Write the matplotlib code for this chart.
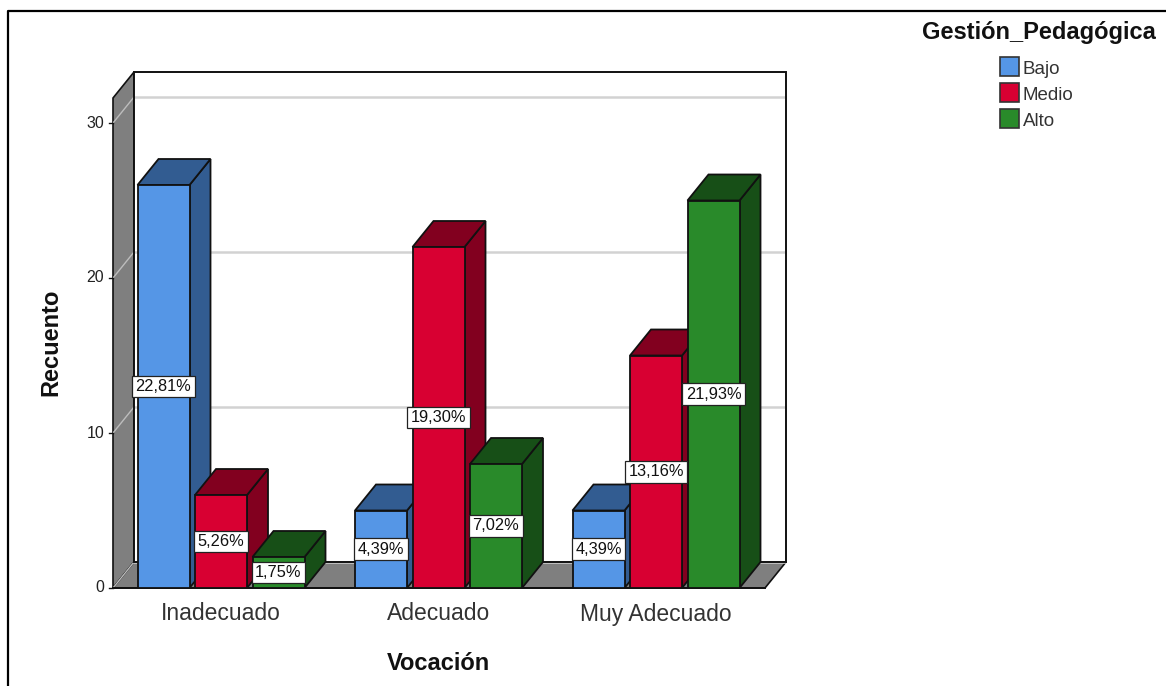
import matplotlib
matplotlib.use('Agg')
import matplotlib.pyplot as plt
from matplotlib.patches import Polygon, Rectangle

plt.rcParams['font.family'] = ['Liberation Sans', 'DejaVu Sans']

#chart data
categories = ['Inadecuado', 'Adecuado', 'Muy Adecuado']
series = ['Bajo', 'Medio', 'Alto']
bajo = [26, 5, 5]
medio = [6, 22, 15]
alto = [2, 8, 25]
bajoPct = ['22,81%', '4,39%', '4,39%']
medioPct = ['5,26%', '19,30%', '13,16%']
altoPct = ['1,75%', '7,02%', '21,93%']
yTicks = [0, 10, 20, 30]

W, H = 1166, 686
DARK = '#111111'
front = ['#5596e6', '#d80032', '#298a2a']
side = ['#325c91', '#82001f', '#174f17']

fig = plt.figure(figsize=(W / 100, H / 100), dpi=100)

#page frame
bg = fig.add_axes([0, 0, 1, 1])
bg.set_xlim(0, W)
bg.set_ylim(H, 0)
bg.axis('off')
bg.plot([8, 8, 1166], [686, 11, 11], color='black', lw=1.6)

#plot axes, front plane: x in group units, y in counts
left, right, top, bottom = 113, 786, 72, 588
pxPerGroup = 217.5
pxPerCount = 15.5
ax = fig.add_axes([left / W, 1 - bottom / H, (right - left) / W, (bottom - top) / H])
ax.set_xlim(-(221 - left) / pxPerGroup, (right - 221) / pxPerGroup)
ax.set_ylim(0, (bottom - top) / pxPerCount)
ax.axis('off')

dx = 21 / pxPerGroup
dy = 26 / pxPerCount
barW = 52 / pxPerGroup
step = 57.5 / pxPerGroup
ymax = ax.get_ylim()[1] - dy
xl = ax.get_xlim()[0]
xr = ax.get_xlim()[1] - dx

#back wall, left wall, floor
ax.add_patch(Polygon([(xl, 0), (xl + dx, dy), (xl + dx, ymax + dy), (xl, ymax)],
                     fc='#7f7f7f', ec=DARK, lw=1.2, clip_on=False))
ax.add_patch(Polygon([(xl, 0), (xr, 0), (xr + dx, dy), (xl + dx, dy)],
                     fc='#7f7f7f', ec=DARK, lw=1.2, clip_on=False))
ax.add_patch(Rectangle((xl + dx, dy), xr - xl, ymax, fc='white', ec='none', clip_on=False))

#gridlines on back wall and their run over the left wall
for t in yTicks:
    ax.plot([xl + dx, xr + dx], [t + dy, t + dy], color='#d2d2d2', lw=1.8, zorder=2)
    ax.plot([xl, xl + dx], [t, t + dy], color='#bdbdbd', lw=1, zorder=2)
    ax.plot([xl - 4 / pxPerGroup, xl], [t, t], color=DARK, lw=1, clip_on=False)
    ax.text(xl - 9 / pxPerGroup, t, str(t), ha='right', va='center', fontsize=11.5, color='#222222')
ax.add_patch(Rectangle((xl + dx, dy), xr - xl, ymax, fc='none', ec=DARK, lw=1.4, zorder=2.2, clip_on=False))

#bars, back to front inside each group
values = [bajo, medio, alto]
labels = [bajoPct, medioPct, altoPct]
for g in range(len(categories)):
    for s in range(len(series)):
        v = values[s][g]
        x = g + (s - 1) * step - barW / 2
        z = 3 + g + s * 0.1
        ax.add_patch(Polygon([(x + barW, 0), (x + barW + dx, dy), (x + barW + dx, v + dy), (x + barW, v)],
                             fc=side[s], ec=DARK, lw=1.3, zorder=z))
        ax.add_patch(Polygon([(x, v), (x + dx, v + dy), (x + barW + dx, v + dy), (x + barW, v)],
                             fc=side[s], ec=DARK, lw=1.3, zorder=z))
        ax.add_patch(Rectangle((x, 0), barW, v, fc=front[s], ec=DARK, lw=1.3, zorder=z))
        ax.text(x + barW / 2, v / 2, labels[s][g], ha='center', va='center',
                fontsize=11.8, color='#111111', zorder=20,
                bbox=dict(boxstyle='square,pad=0.2', fc='white', ec='#222222', lw=0.9))

ax.plot([xl, xr], [0, 0], color=DARK, lw=1.4, zorder=2.5, clip_on=False)

#category labels and axis titles
for g, c in enumerate(categories):
    ax.text(g, -26 / pxPerCount, c, ha='center', va='center', fontsize=16.5, color='#333333', clip_on=False)
bg.text(438, 663, 'Vocación', ha='center', va='center', fontsize=17, fontweight='bold', color='#111111')
bg.text(51, 342, 'Recuento', ha='center', va='center', rotation=90, fontsize=17, fontweight='bold', color='#111111')

#legend
bg.text(1039, 32, 'Gestión_Pedagógica', ha='center', va='center', fontsize=17, fontweight='bold', color='#111111')
for i, name in enumerate(series):
    yy = 57 + 26 * i
    bg.add_patch(Rectangle((1000, yy), 19, 19, fc=front[i], ec='#333333', lw=1.2))
    bg.text(1023, yy + 12, name, ha='left', va='center', fontsize=13.5, color='#333333')

fig.savefig('out.png', dpi=100)
